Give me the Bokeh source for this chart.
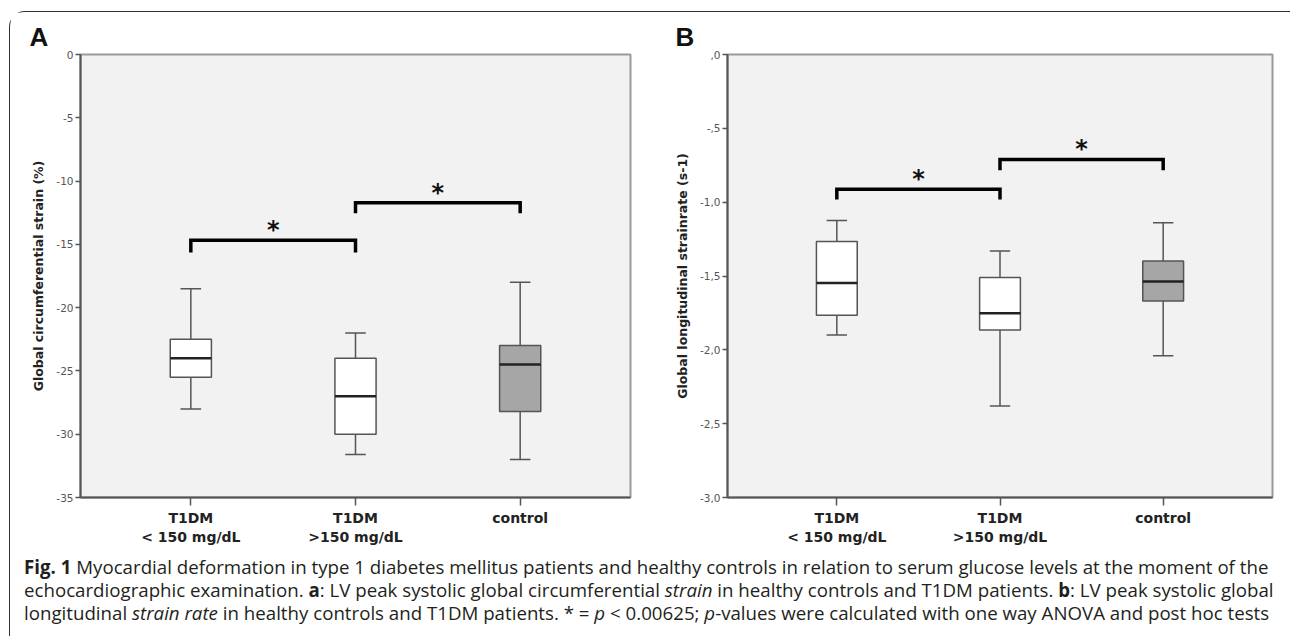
from bokeh.plotting import figure
from bokeh.models import Range1d, FixedTicker, Div
from bokeh.layouts import row, column
from bokeh.embed import file_html
from bokeh.resources import INLINE
from bokeh.core.properties import value

# ---------------- data ----------------
groups = ["T1DM\n< 150 mg/dL", "T1DM\n>150 mg/dL", "control"]
group_pos = [1, 2, 3]
box_fill = ["#ffffff", "#ffffff", "#a6a6a6"]

# Panel A: global circumferential strain (%)
a_whislo = [-28.0, -31.6, -32.0]
a_q1 = [-25.5, -30.0, -28.2]
a_med = [-24.0, -27.0, -24.5]
a_q3 = [-22.5, -24.0, -23.0]
a_whishi = [-18.5, -22.0, -18.0]
a_yticks = [0, -5, -10, -15, -20, -25, -30, -35]
a_ytick_labels = ["0", "-5", "-10", "-15", "-20", "-25", "-30", "-35"]
a_sig_left = [1, 2]
a_sig_right = [2, 3]
a_sig_y = [-14.67, -11.71]
a_sig_leg = [-15.65, -12.55]

# Panel B: global longitudinal strain rate (s-1)
b_whislo = [-1.90, -2.38, -2.04]
b_q1 = [-1.766, -1.865, -1.669]
b_med = [-1.547, -1.752, -1.538]
b_q3 = [-1.266, -1.511, -1.399]
b_whishi = [-1.124, -1.331, -1.140]
b_yticks = [0, -0.5, -1.0, -1.5, -2.0, -2.5, -3.0]
b_ytick_labels = [",0", "-,5", "-1,0", "-1,5", "-2,0", "-2,5", "-3,0"]
b_sig_left = [1, 2]
b_sig_right = [2, 3]
b_sig_y = [-0.912, -0.711]
b_sig_leg = [-0.982, -0.784]

BOX_W = 0.25
CAP_W = 0.125
FIG_H = 538


def make_panel(letter, ylabel, ymin, whislo, q1, med, q3, whishi, yticks, ylabels,
               sig_l, sig_r, sig_y, sig_leg, width, mb_left, mb_right, title_offset):
    p = figure(width=width, height=FIG_H, x_range=Range1d(0.33, 3.67),
               y_range=Range1d(ymin, 0), output_backend="svg", toolbar_location=None,
               min_border_left=mb_left, min_border_right=mb_right,
               min_border_top=42, min_border_bottom=53)
    p.background_fill_color = "#f2f2f2"
    p.border_fill_color = "white"
    p.outline_line_color = "#9a9a9a"
    p.outline_line_width = 2
    p.xgrid.visible = False
    p.ygrid.visible = False

    # title letter
    p.title.text = letter
    p.title.text_font = "Liberation Sans"
    p.title.text_font_size = "26px"
    p.title.text_font_style = "bold"
    p.title.text_color = "#111111"
    p.title.align = "left"
    p.title.offset = title_offset
    p.title.standoff = 5

    # axes
    p.yaxis.ticker = FixedTicker(ticks=yticks)
    p.yaxis.major_label_overrides = dict(zip(yticks, ylabels))
    p.yaxis.axis_label = ylabel
    p.yaxis.axis_label_text_font = "DejaVu Sans"
    p.yaxis.axis_label_text_font_style = "bold"
    p.yaxis.axis_label_text_font_size = "12.5px"
    p.yaxis.axis_label_text_color = "#222222"
    p.yaxis.axis_label_standoff = 7
    p.yaxis.major_label_text_font = "DejaVu Sans"
    p.yaxis.major_label_text_font_size = "10.5px"
    p.yaxis.major_label_text_color = "#555555"
    p.yaxis.major_label_standoff = 2
    p.yaxis.major_tick_out = 5
    p.yaxis.major_tick_in = 0
    p.yaxis.minor_tick_line_color = None

    p.xaxis.ticker = FixedTicker(ticks=group_pos)
    p.xaxis.major_label_overrides = dict(zip(group_pos, groups))
    p.xaxis.major_label_text_font = "DejaVu Sans"
    p.xaxis.major_label_text_font_style = "bold"
    p.xaxis.major_label_text_font_size = "14px"
    p.xaxis.major_label_text_color = "#222222"
    p.xaxis.major_label_standoff = 4
    p.xaxis.major_tick_out = 8
    p.xaxis.major_tick_in = 0
    p.xaxis.minor_tick_line_color = None

    for ax in (p.xaxis, p.yaxis):
        ax.axis_line_color = "#555555"
        ax.axis_line_width = 2
        ax.major_tick_line_color = "#555555"
        ax.major_tick_line_width = 1.5

    # whiskers
    p.segment(x0=group_pos, x1=group_pos, y0=q3, y1=whishi, line_color="#555555", line_width=1.5)
    p.segment(x0=group_pos, x1=group_pos, y0=q1, y1=whislo, line_color="#555555", line_width=1.5)
    cap_l = [x - CAP_W / 2 for x in group_pos]
    cap_r = [x + CAP_W / 2 for x in group_pos]
    p.segment(x0=cap_l, x1=cap_r, y0=whishi, y1=whishi, line_color="#555555", line_width=1.5)
    p.segment(x0=cap_l, x1=cap_r, y0=whislo, y1=whislo, line_color="#555555", line_width=1.5)
    # boxes
    p.vbar(x=group_pos, width=BOX_W, top=q3, bottom=q1, fill_color=box_fill,
           line_color="#555555", line_width=1.5)
    # medians
    p.segment(x0=[x - BOX_W / 2 for x in group_pos], x1=[x + BOX_W / 2 for x in group_pos],
              y0=med, y1=med, line_color="#222222", line_width=2.5)

    # significance brackets
    xs = [[l, l, r, r] for l, r in zip(sig_l, sig_r)]
    ys = [[lg, y, y, lg] for y, lg in zip(sig_y, sig_leg)]
    p.multi_line(xs=xs, ys=ys, line_color="#000000", line_width=3.5,
                 line_join="miter", line_cap="butt")
    p.text(x=[(l + r) / 2 for l, r in zip(sig_l, sig_r)], y=sig_y, text=["*"] * len(sig_y),
           text_font=value("DejaVu Sans"), text_font_style="bold", text_font_size="24px",
           text_align="center", text_baseline="alphabetic", y_offset=-10, text_color="#111111")
    return p


pA = make_panel("A", "Global circumferential strain (%)", -35,
                a_whislo, a_q1, a_med, a_q3, a_whishi, a_yticks, a_ytick_labels,
                a_sig_left, a_sig_right, a_sig_y, a_sig_leg,
                width=660, mb_left=70, mb_right=40, title_offset=-51)
pB = make_panel("B", "Global longitudinal strainrate (s-1)", -3.0,
                b_whislo, b_q1, b_med, b_q3, b_whishi, b_yticks, b_ytick_labels,
                b_sig_left, b_sig_right, b_sig_y, b_sig_leg,
                width=619, mb_left=57, mb_right=17, title_offset=-52)

caption_html = (
    '<div style="font-family:\'Open Sans\'; font-size:18.7px; line-height:23px; color:#231f20; '
    'white-space:nowrap; padding:0 0 0 9px;">'
    '<b>Fig. 1</b> Myocardial deformation in type 1 diabetes mellitus patients and healthy controls '
    'in relation to serum glucose levels at the moment of the<br>'
    'echocardiographic examination. <b>a</b>: LV peak systolic global circumferential <i>strain</i> '
    'in healthy controls and T1DM patients. <b>b</b>: LV peak systolic global<br>'
    'longitudinal <i>strain rate</i> in healthy controls and T1DM patients. * = <i>p</i> &lt; 0.00625; '
    '<i>p</i>-values were calculated with one way ANOVA and post hoc tests'
    '</div>'
)
caption = Div(text=caption_html, width=1279, height=84)

layout = column(row(pA, pB), caption, margin=(11, 0, 0, 9),
                styles={"border-left": "1.5px solid #333333",
                        "border-top": "1.5px solid #333333",
                        "border-top-left-radius": "16px"})

open("out.html", "w").write(file_html(layout, INLINE))
